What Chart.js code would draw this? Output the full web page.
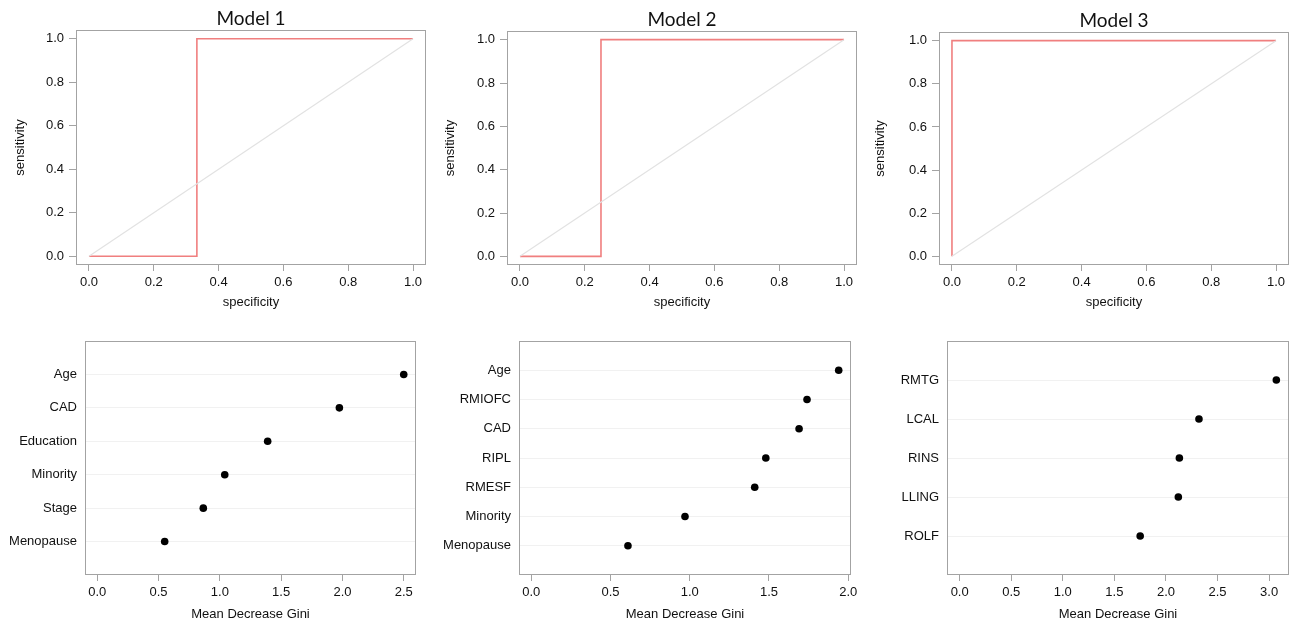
<!DOCTYPE html>
<html>
<head>
<meta charset="utf-8">
<script src="https://cdn.jsdelivr.net/npm/chart.js@4/dist/chart.umd.min.js"></script>
<style>
  body { margin: 0; background: #fff; width: 1300px; height: 629px; overflow: hidden; }
  canvas { position: absolute; }
</style>
</head>
<body>
<canvas id="roc1"></canvas>
<canvas id="roc2"></canvas>
<canvas id="roc3"></canvas>
<canvas id="gini1"></canvas>
<canvas id="gini2"></canvas>
<canvas id="gini3"></canvas>
<script>
// ROC curves (specificity on x, sensitivity on y)
const rocTicks = [0, 0.2, 0.4, 0.6, 0.8, 1.0];
const roc1X = [0, 0.333, 0.333, 1];
const roc1Y = [0, 0, 1, 1];
const roc2X = [0, 0.25, 0.25, 1];
const roc2Y = [0, 0, 1, 1];
const roc3X = [0, 0, 1];
const roc3Y = [0, 1, 1];
const diagX = [0, 1];
const diagY = [0, 1];

// Variable importance (top to bottom)
const gini1Labels = ['Age', 'CAD', 'Education', 'Minority', 'Stage', 'Menopause'];
const gini1Values = [2.50, 1.975, 1.39, 1.04, 0.865, 0.55];
const gini1Ticks = [0, 0.5, 1.0, 1.5, 2.0, 2.5];

const gini2Labels = ['Age', 'RMIOFC', 'CAD', 'RIPL', 'RMESF', 'Minority', 'Menopause'];
const gini2Values = [1.94, 1.74, 1.69, 1.48, 1.41, 0.97, 0.61];
const gini2Ticks = [0, 0.5, 1.0, 1.5, 2.0];

const gini3Labels = ['RMTG', 'LCAL', 'RINS', 'LLING', 'ROLF'];
const gini3Values = [3.07, 2.32, 2.13, 2.12, 1.75];
const gini3Ticks = [0, 0.5, 1.0, 1.5, 2.0, 2.5, 3.0];

const tickFont = { family: "'Liberation Sans', Arial, Helvetica, sans-serif", size: 13 };
const textColor = '#111';
const frameColor = '#a3a3a3';
const rocColor = '#f07f7f';

// draws the box around the plot region, like R's box()
const framePlugin = {
  id: 'frame',
  afterDraw(chart) {
    const a = chart.chartArea, ctx = chart.ctx;
    const l = Math.round(a.left), t = Math.round(a.top);
    const r = Math.round(a.right), b = Math.round(a.bottom);
    ctx.save();
    ctx.strokeStyle = frameColor;
    ctx.lineWidth = 1;
    ctx.strokeRect(l + 0.5, t + 0.5, r - l - 1, b - t - 1);
    ctx.restore();
  }
};

function placeCanvas(id, left, top, w, h) {
  const c = document.getElementById(id);
  c.width = w; c.height = h;
  c.style.left = left + 'px'; c.style.top = top + 'px';
  c.style.width = w + 'px'; c.style.height = h + 'px';
  return c;
}

function points(xs, ys) {
  return xs.map((x, i) => ({ x: x, y: ys[i] }));
}

function rocChart(id, left, w, title, xs, ys, yWidth, padRight, padTop) {
  const c = placeCanvas(id, left, 0, w, 310);
  new Chart(c, {
    type: 'scatter',
    data: {
      datasets: [
        { data: points(diagX, diagY), showLine: true, borderColor: '#e2e2e2', borderWidth: 1.2, pointRadius: 0 },
        { data: points(xs, ys), showLine: true, borderColor: rocColor, borderWidth: 1.6, pointRadius: 0 }
      ]
    },
    options: {
      responsive: false,
      animation: false,
      layout: { padding: { left: 0, right: padRight, top: padTop, bottom: 0 } },
      plugins: {
        legend: { display: false },
        tooltip: { enabled: false },
        title: {
          display: true, text: title, fullSize: false, color: '#111',
          font: { family: 'Lato, sans-serif', size: 19, weight: 'normal' },
          padding: { top: 7, bottom: 0.2 }
        }
      },
      scales: {
        x: {
          type: 'linear', min: -0.04, max: 1.04,
          afterBuildTicks: s => { s.ticks = rocTicks.map(v => ({ value: v })); },
          afterFit: s => { s.height = 45; },
          ticks: { font: tickFont, color: textColor, padding: 4, callback: v => v.toFixed(1), maxRotation: 0 },
          grid: { drawOnChartArea: false, tickLength: 6, color: frameColor },
          border: { display: false },
          title: { display: true, text: 'specificity', font: tickFont, color: textColor, padding: { top: 0, bottom: 0 } }
        },
        y: {
          type: 'linear', min: -0.04, max: 1.04,
          afterBuildTicks: s => { s.ticks = rocTicks.map(v => ({ value: v })); },
          afterFit: s => { s.width = yWidth; },
          ticks: { font: tickFont, color: textColor, padding: 5, callback: v => v.toFixed(1) },
          grid: { drawOnChartArea: false, tickLength: 7, color: frameColor },
          border: { display: false },
          title: { display: true, text: 'sensitivity', font: tickFont, color: textColor, padding: { top: 13, bottom: 0 } }
        }
      }
    },
    plugins: [framePlugin]
  });
}

function giniChart(id, left, w, labels, values, xTicks, yWidth, padRight) {
  const c = placeCanvas(id, left, 310, w, 319);
  const n = labels.length;
  const top = Math.max.apply(null, values);
  new Chart(c, {
    type: 'scatter',
    data: {
      datasets: [{
        data: values.map((v, i) => ({ x: v, y: n - i })),
        backgroundColor: '#000', borderColor: '#000', pointRadius: 3.8, borderWidth: 0
      }]
    },
    options: {
      responsive: false,
      animation: false,
      layout: { padding: { left: 0, right: padRight, top: 31, bottom: 0 } },
      plugins: { legend: { display: false }, tooltip: { enabled: false } },
      scales: {
        x: {
          type: 'linear', min: -0.04 * top, max: 1.04 * top,
          afterBuildTicks: s => { s.ticks = xTicks.map(v => ({ value: v })); },
          afterFit: s => { s.height = 54; },
          ticks: { font: tickFont, color: textColor, padding: 4, callback: v => v.toFixed(1), maxRotation: 0 },
          grid: { drawOnChartArea: false, tickLength: 6, color: frameColor },
          border: { display: false },
          title: { display: true, text: 'Mean Decrease Gini', font: tickFont, color: textColor, padding: { top: 0, bottom: 7 } }
        },
        y: {
          type: 'linear', min: 0, max: n + 1,
          afterBuildTicks: s => { s.ticks = labels.map((l, i) => ({ value: n - i })); },
          afterFit: s => { s.width = yWidth; },
          ticks: { font: tickFont, color: textColor, padding: 8, callback: v => labels[n - v] },
          grid: { drawOnChartArea: true, drawTicks: false, color: '#f1f1f1' },
          border: { display: false }
        }
      }
    },
    plugins: [framePlugin]
  });
}

rocChart('roc1', 0, 430, 'Model 1', roc1X, roc1Y, 76, 4, 0);
rocChart('roc2', 430, 430, 'Model 2', roc2X, roc2Y, 77, 3, 1);
rocChart('roc3', 860, 440, 'Model 3', roc3X, roc3Y, 79, 11, 2);

giniChart('gini1', 0, 430, gini1Labels, gini1Values, gini1Ticks, 85, 14);
giniChart('gini2', 430, 450, gini2Labels, gini2Values, gini2Ticks, 89, 29);
giniChart('gini3', 860, 440, gini3Labels, gini3Values, gini3Ticks, 87, 11);
</script>
</body>
</html>
